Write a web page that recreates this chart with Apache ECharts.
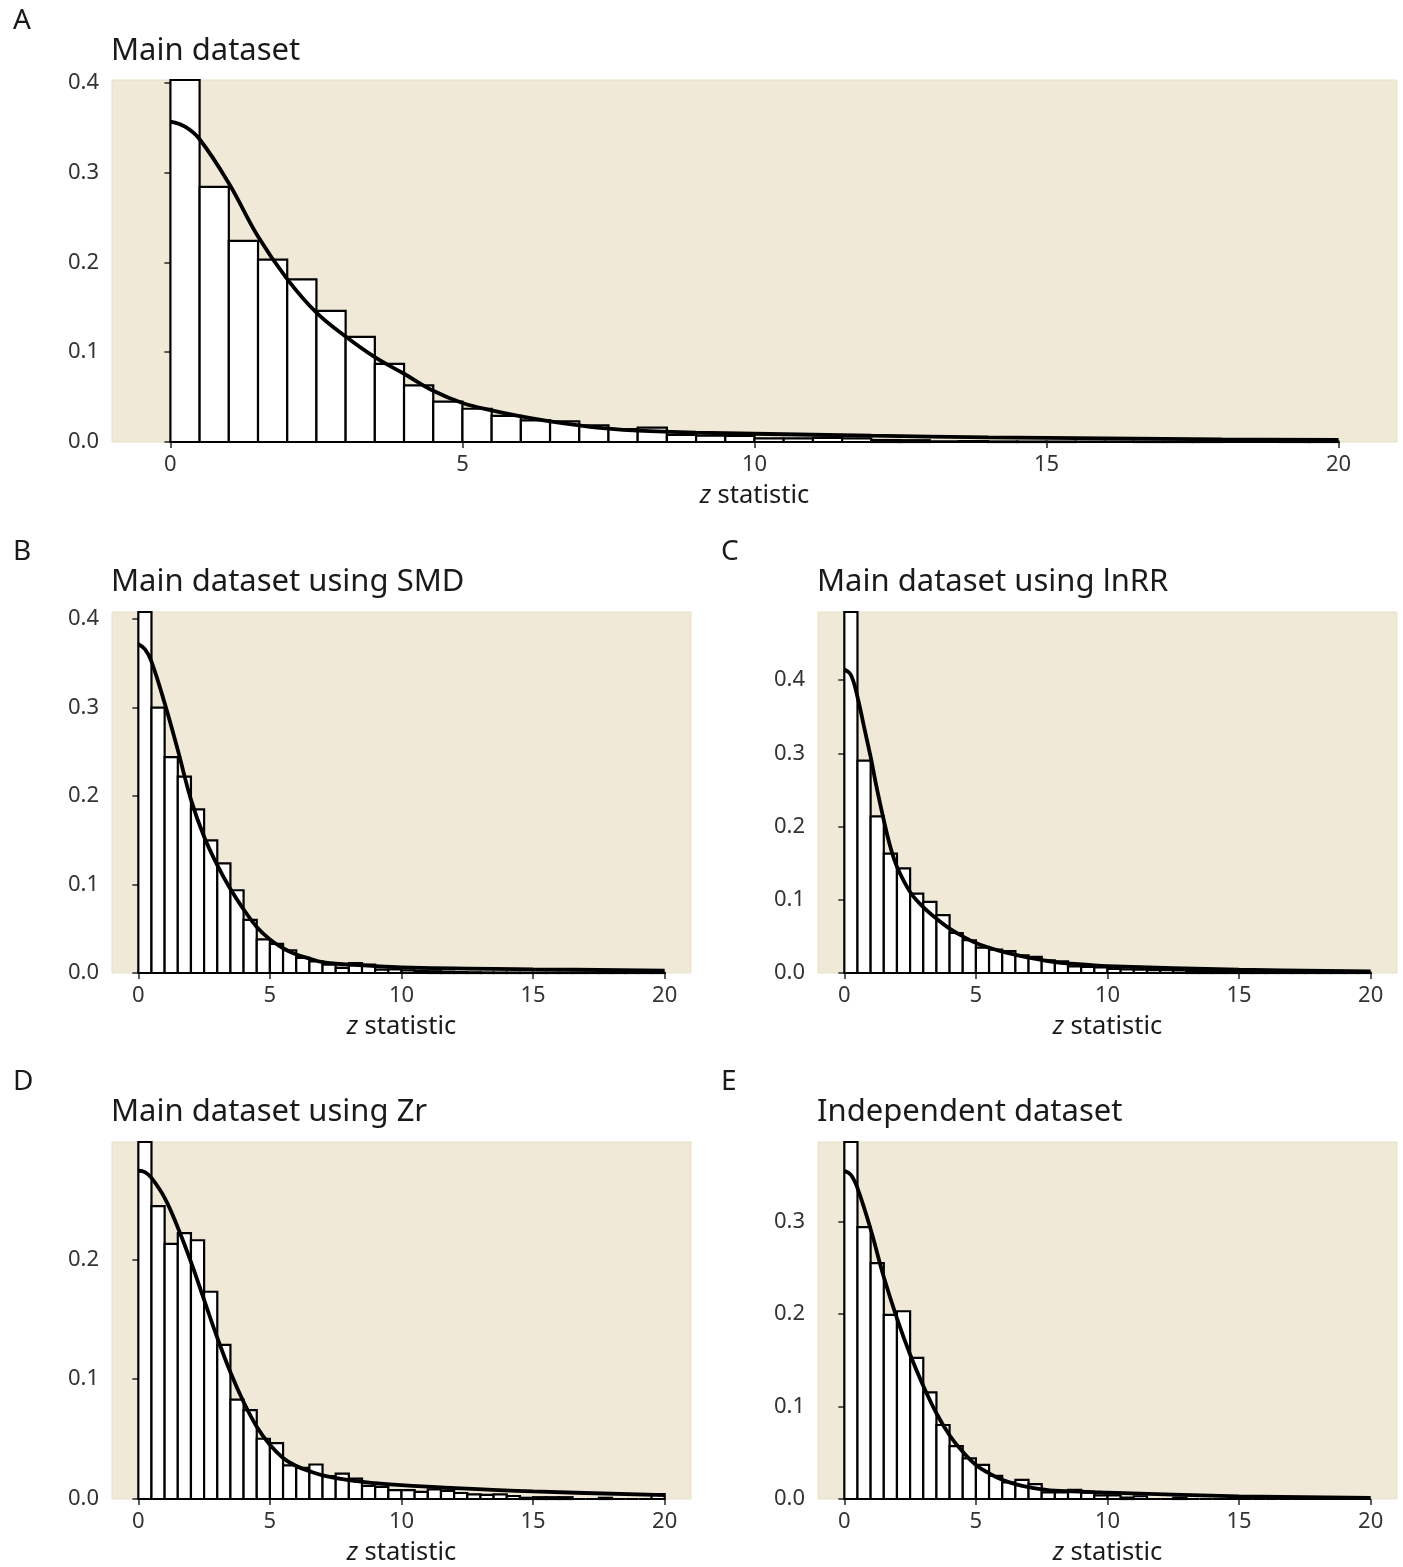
<!DOCTYPE html>
<html>
<head>
<meta charset="utf-8">
<script src="https://cdn.jsdelivr.net/npm/echarts@6/dist/echarts.min.js"></script>
<style>
html,body{margin:0;padding:0;background:#fff;}
#chart{width:1403px;height:1567px;}
</style>
</head>
<body>
<div id="chart"></div>
<script>
// ---- Data ----
const binWidth = 0.5;           // histogram bin width, bins cover 0..20
const xTicks = [0, 5, 10, 15, 20];

const panelLetters = ['A', 'B', 'C', 'D', 'E'];
const panelTitles = ['Main dataset', 'Main dataset using SMD', 'Main dataset using lnRR', 'Main dataset using Zr', 'Independent dataset'];

// histogram densities, one value per 0.5-wide bin (0-0.5, 0.5-1, ... 19.5-20)
const histA = [0.44, 0.284, 0.224, 0.203, 0.181, 0.146, 0.117, 0.087, 0.063, 0.045,
               0.037, 0.029, 0.024, 0.023, 0.0185, 0.0145, 0.016, 0.008, 0.007, 0.0067,
               0.004, 0.004, 0.0045, 0.004, 0.0022, 0.002, 0.0007, 0.001, 0.0006, 0.0005,
               0.0005, 0.0004, 0.0004, 0.0003, 0.0003, 0.0003, 0.0002, 0.0002, 0.0002, 0.0003];
const histB = [0.44, 0.300, 0.244, 0.222, 0.185, 0.150, 0.124, 0.0935, 0.060, 0.038,
               0.033, 0.0257, 0.017, 0.0132, 0.0095, 0.0057, 0.0113, 0.0095, 0.0038, 0.004,
               0.003, 0.0025, 0.002, 0.0015, 0.001, 0.0008, 0.0006, 0.0005, 0.0005, 0.0004,
               0.0004, 0.0004, 0.0003, 0.0003, 0.0003, 0.002, 0.0003, 0.0002, 0.0002, 0.0002];
const histC = [0.55, 0.290, 0.214, 0.163, 0.143, 0.1085, 0.097, 0.079, 0.0546, 0.0447,
               0.0347, 0.032, 0.030, 0.0242, 0.0219, 0.0173, 0.016, 0.0091, 0.0082, 0.0075,
               0.0055, 0.005, 0.0045, 0.004, 0.004, 0.0035, 0.003, 0.003, 0.0025, 0.0022,
               0.0012, 0.001, 0.001, 0.0009, 0.0008, 0.0008, 0.0007, 0.0006, 0.0006, 0.0005];
const histD = [0.32, 0.2445, 0.213, 0.222, 0.216, 0.173, 0.1286, 0.083, 0.0742, 0.0503,
               0.0467, 0.028, 0.026, 0.0288, 0.0192, 0.0211, 0.017, 0.011, 0.0101, 0.0074,
               0.0074, 0.006, 0.008, 0.0068, 0.005, 0.0038, 0.0035, 0.0038, 0.0025, 0.001,
               0.0015, 0.0015, 0.0015, 0, 0, 0.001, 0, 0, 0, 0.004];
const histE = [0.44, 0.294, 0.255, 0.199, 0.203, 0.1526, 0.1152, 0.080, 0.0571, 0.0439,
               0.0368, 0.025, 0.0179, 0.0207, 0.016, 0.0072, 0.0072, 0.010, 0.007, 0.004,
               0.004, 0.0015, 0.003, 0, 0, 0.0015, 0, 0, 0, 0,
               0, 0, 0, 0, 0, 0, 0, 0, 0, 0];

// fitted density curves: [z, density]
const curveA = [[0,0.3566],[0.25,0.351],[0.5,0.337],[1,0.288],[1.5,0.2287],[2,0.1813],[2.5,0.144],[3,0.1175],
                [3.5,0.0945],[4,0.076],[4.5,0.057],[5,0.0434],[5.5,0.0352],[6,0.0285],[6.5,0.023],[7,0.0185],
                [7.5,0.0148],[8,0.0126],[9,0.0104],[10,0.0092],[12,0.007],[14,0.0052],[16,0.004],[18,0.0029],[20,0.0022]];
const curveB = [[0,0.3715],[0.25,0.366],[0.5,0.352],[1,0.305],[1.5,0.252],[2,0.196],[2.5,0.154],[3,0.122],
                [3.5,0.095],[4,0.072],[4.5,0.052],[5,0.038],[5.5,0.028],[6,0.021],[6.5,0.0163],[7,0.0124],
                [8,0.0095],[10,0.0064],[15,0.0042],[20,0.0027]];
const curveC = [[0,0.4145],[0.25,0.407],[0.5,0.377],[0.75,0.336],[1,0.295],[1.25,0.2496],[1.5,0.2086],[1.75,0.172],
                [2,0.145],[2.5,0.1107],[3,0.09],[3.5,0.0743],[4,0.0607],[4.5,0.0501],[5,0.041],[5.5,0.0347],
                [6,0.0292],[7,0.021],[8,0.015],[9.5,0.0105],[10,0.0095],[15,0.0046],[20,0.0023]];
const curveD = [[0,0.274],[0.25,0.2729],[0.5,0.268],[1,0.2514],[1.5,0.2267],[2,0.1979],[2.5,0.1662],[3,0.1346],
                [3.5,0.1058],[4,0.081],[4.5,0.0604],[5,0.0453],[5.5,0.0343],[6,0.0275],[6.5,0.0233],[7,0.0198],
                [8,0.0157],[9,0.0132],[10,0.0115],[11.5,0.0096],[15,0.0063],[20,0.0033]];
const curveE = [[0,0.3548],[0.25,0.3505],[0.5,0.3362],[1,0.2917],[1.5,0.24],[2,0.1954],[2.5,0.1562],[3,0.1223],
                [3.5,0.0927],[4,0.0689],[4.5,0.051],[5,0.0368],[5.5,0.0278],[6,0.0207],[6.5,0.016],[7,0.0128],
                [8,0.009],[9.5,0.0075],[10,0.0068],[15,0.0029],[20,0.0011]];

// y-axis tick labels and upper limits per panel
const yTicksA = [0, 0.1, 0.2, 0.3, 0.4];
const yTicksB = [0, 0.1, 0.2, 0.3, 0.4];
const yTicksC = [0, 0.1, 0.2, 0.3, 0.4];
const yTicksD = [0, 0.1, 0.2];
const yTicksE = [0, 0.1, 0.2, 0.3];
const yMax = [0.403, 0.408, 0.493, 0.298, 0.386];

// ---- Layout ----
const hists = [histA, histB, histC, histD, histE];
const curves = [curveA, curveB, curveC, curveD, curveE];
const yTicks = [yTicksA, yTicksB, yTicksC, yTicksD, yTicksE];
const grids = [
  {left: 112, top: 80,   width: 1285, height: 362},
  {left: 112, top: 612,  width: 579,  height: 361},
  {left: 818, top: 612,  width: 579,  height: 361},
  {left: 112, top: 1142, width: 579,  height: 361},
  {left: 818, top: 1142, width: 579,  height: 361}
];
const letterPos = [[13, 7], [13, 538], [721, 538], [13, 1068], [721, 1068]];
const titlePos = [[111, 36], [111, 567], [817, 567], [111, 1097], [817, 1097]];

const FONT = 'Noto Sans';
const panelBg = '#F0E9D8';

function renderBar(params, api) {
  const x0 = api.value(0), x1 = api.value(1), h = api.value(2);
  const pTop = api.coord([x0, h]);
  const pBot = api.coord([x1, 0]);
  const cs = params.coordSys;
  const rect = echarts.graphic.clipRectByRect(
    {x: pTop[0], y: pTop[1], width: pBot[0] - pTop[0], height: pBot[1] - pTop[1]},
    {x: cs.x, y: cs.y, width: cs.width, height: cs.height + 2}
  );
  if (!rect) return null;
  return {
    type: 'rect',
    shape: rect,
    style: {fill: '#ffffff', stroke: '#000000', lineWidth: 2.2}
  };
}

const option = {
  backgroundColor: '#ffffff',
  animation: false,
  title: [],
  grid: [],
  xAxis: [],
  yAxis: [],
  series: []
};

for (let i = 0; i < 5; i++) {
  option.title.push({
    text: panelLetters[i], left: letterPos[i][0], top: letterPos[i][1], padding: 0,
    textStyle: {fontFamily: FONT, fontSize: 28, fontWeight: 'normal', color: '#1a1a1a'}
  });
  option.title.push({
    text: panelTitles[i], left: titlePos[i][0], top: titlePos[i][1], padding: 0,
    textStyle: {fontFamily: FONT, fontSize: 31, fontWeight: 'normal', color: '#1a1a1a'}
  });
  option.grid.push(Object.assign({
    show: true, backgroundColor: panelBg, borderColor: '#E9E0C8', borderWidth: 1, containLabel: false
  }, grids[i]));
  option.xAxis.push({
    type: 'value', gridIndex: i, min: -1, max: 21,
    name: '{it|z} statistic', nameLocation: 'middle', nameGap: 41,
    nameTextStyle: {fontFamily: FONT, fontSize: 25.5, color: '#1a1a1a',
      rich: {it: {fontFamily: FONT, fontSize: 25.5, fontStyle: 'italic', color: '#1a1a1a'}}},
    axisLine: {show: false},
    splitLine: {show: false},
    axisTick: {show: true, length: 6, lineStyle: {color: '#333333', width: 1.6}, customValues: xTicks},
    axisLabel: {fontFamily: FONT, fontSize: 22, color: '#333333', margin: 12, customValues: xTicks,
      formatter: v => String(v)}
  });
  option.yAxis.push({
    type: 'value', gridIndex: i, min: 0, max: yMax[i],
    axisLine: {show: false},
    splitLine: {show: false},
    axisTick: {show: true, length: 6, lineStyle: {color: '#333333', width: 1.6}, customValues: yTicks[i]},
    axisLabel: {fontFamily: FONT, fontSize: 22, color: '#333333', margin: 13, customValues: yTicks[i],
      formatter: v => v.toFixed(1)}
  });
  const barData = hists[i].map((h, k) => [k * binWidth, (k + 1) * binWidth, h]);
  option.series.push({
    type: 'custom', xAxisIndex: i, yAxisIndex: i,
    renderItem: renderBar, data: barData,
    encode: {x: [0, 1], y: 2}, silent: true, z: 2
  });
  option.series.push({
    type: 'line', xAxisIndex: i, yAxisIndex: i, data: curves[i],
    showSymbol: false, smooth: 0.4, clip: true,
    lineStyle: {color: '#000000', width: 3.8}, silent: true, z: 3
  });
}

const chart = echarts.init(document.getElementById('chart'), null, {renderer: 'canvas'});
chart.setOption(option);
</script>
</body>
</html>
